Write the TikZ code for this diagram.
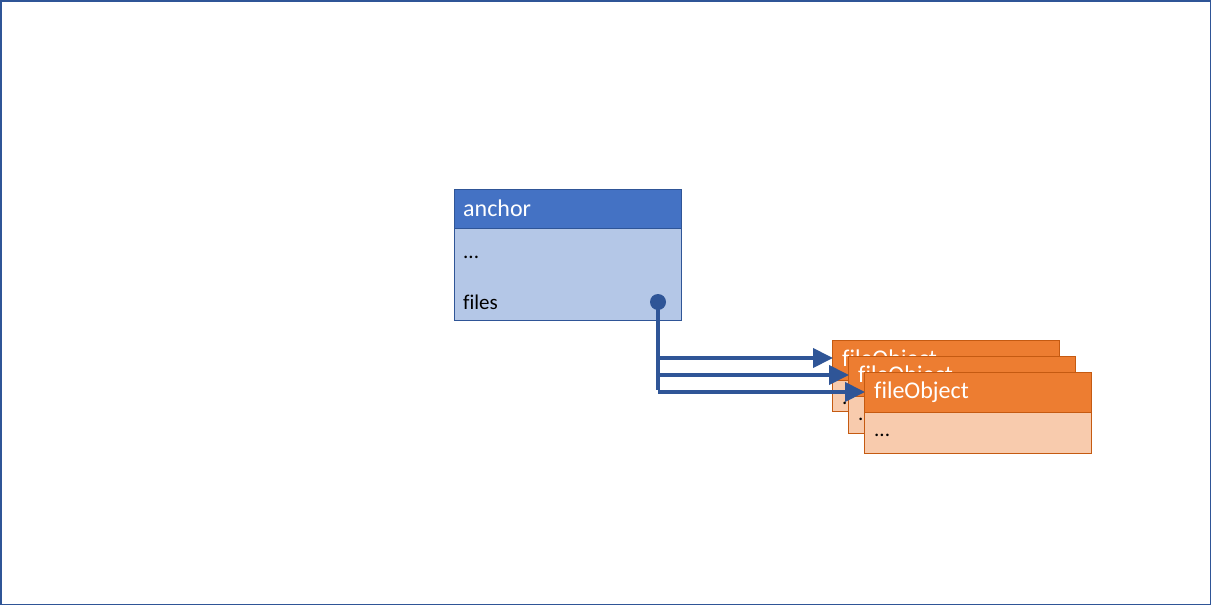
\documentclass[tikz,border=0pt]{standalone}
\usepackage{fontspec}
\setmainfont{Carlito}[Ligatures=NoCommon]
\usetikzlibrary{arrows.meta}
\definecolor{hblue}{HTML}{4472C4}
\definecolor{lblue}{HTML}{B4C7E7}
\definecolor{dblue}{HTML}{2F5597}
\definecolor{horange}{HTML}{ED7D31}
\definecolor{lorange}{HTML}{F8CBAD}
\definecolor{dorange}{HTML}{C55A11}
\tikzset{
  box/.style={draw, line width=1pt, inner sep=0pt, anchor=north west, minimum width=227pt},
  bhead/.style={box, draw=dblue, fill=hblue, minimum height=39pt},
  bbody/.style={box, draw=dblue, fill=lblue, minimum height=92pt},
  ohead/.style={box, draw=dorange, fill=horange, minimum height=40pt},
  obody/.style={box, draw=dorange, fill=lorange},
  htext/.style={anchor=base west, inner sep=0pt, text=white, font=\fontsize{24}{28}\selectfont},
  btext/.style={anchor=base west, inner sep=0pt, text=black, font=\fontsize{21}{25}\selectfont},
  link/.style={draw=dblue, line width=4pt},
  arr/.style={link, -{Triangle[length=20pt,width=19pt]}, shorten >=-1pt},
}
\begin{document}
\begin{tikzpicture}[x=1pt,y=-1pt]
\useasboundingbox (0,0) rectangle (1211,605);
\draw[dblue, line width=1.5pt] (0.75,0.75) rectangle (1210.25,604.25);
% anchor box
\node[bhead] (ah) at (454,189) {};
\node[bbody] (ab) at (454,228) {};
\node[htext] (at) at (463,216) {anchor};
\node[btext] (adots) at (463,258) {...};
\node[btext] (afiles) at (463,309) {files};
\node[circle, fill=dblue, minimum size=16pt, inner sep=0pt] (dot) at (658,302) {};
% file objects
\node[obody, minimum height=71pt] (b1) at (832,340) {};
\node[ohead] (h1) at (832,340) {};
\node[htext] (t1) at (842,366) {fileObject};
\node[btext] (d1) at (842,404) {...};
\node[obody, minimum height=77pt] (b2) at (848,356) {};
\node[ohead] (h2) at (848,356) {};
\node[htext] (t2) at (858,382) {fileObject};
\node[btext] (d2) at (858,420) {...};
\node[obody, minimum height=81pt] (b3) at (864,372) {};
\node[ohead] (h3) at (864,372) {};
\node[htext] (t3) at (874,398) {fileObject};
\node[btext] (d3) at (874,436) {...};
% connectors
\coordinate (j1) at (658,358);
\coordinate (j2) at (658,375);
\coordinate (j3) at (658,392);
\draw[link] (dot.center) -- ([yshift=2pt]j3);
\draw[arr] (j1) -- (j1 -| b1.west);
\draw[arr] (j2) -- (j2 -| b2.west);
\draw[arr] (j3) -- (j3 -| b3.west);
\end{tikzpicture}
\end{document}
